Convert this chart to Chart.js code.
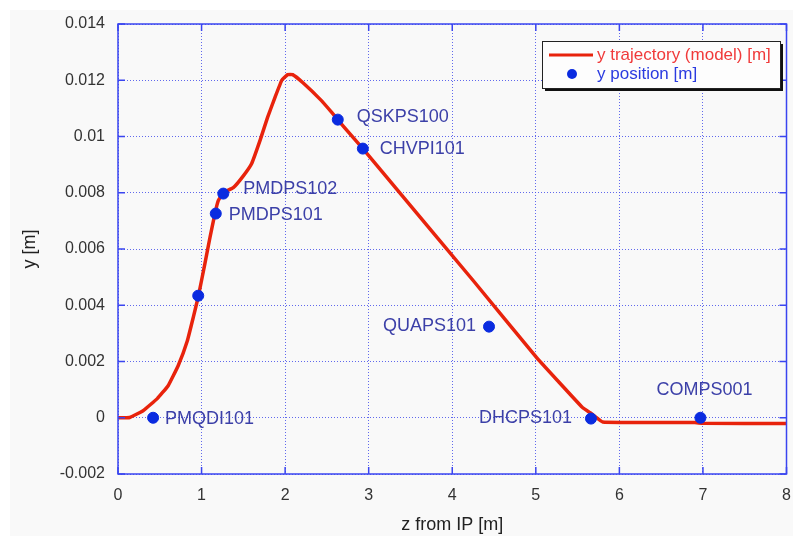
<!DOCTYPE html>
<html>
<head>
<meta charset="utf-8">
<script src="https://cdn.jsdelivr.net/npm/chart.js@4/dist/chart.umd.min.js"></script>
<style>
  html, body { margin: 0; padding: 0; background: #fff; }
  #wrap { width: 793px; height: 536px; }
</style>
</head>
<body>
<div id="wrap"><canvas id="trajChart" width="793" height="536"></canvas></div>
<script>
// model trajectory (z [m], y [m])
const zCurve = [0, 0.14, 0.30, 0.47, 0.60, 0.72, 0.83, 0.90, 0.96, 1.04, 1.10, 1.16, 1.20, 1.26,
  1.38, 1.50, 1.60, 1.70, 1.79, 1.88, 1.96, 2.03, 2.09, 2.21, 2.42, 2.56, 2.69, 2.93, 3.41,
  4.25, 5.01, 5.56, 5.65, 5.80, 6.90, 7.00, 8.00];
const yCurve = [0, 0.00001, 0.00025, 0.00068, 0.00114, 0.00185, 0.00274, 0.00356, 0.0043, 0.00548,
  0.0064, 0.00726, 0.00772, 0.0080, 0.00818, 0.0086, 0.00904, 0.00986, 0.01068, 0.0114, 0.0120,
  0.0122, 0.0122, 0.01192, 0.01132, 0.01085, 0.01039, 0.00957, 0.00786, 0.00488, 0.00214,
  0.00036, 0.00018, -0.00015, -0.00017, -0.0002, -0.0002];

// measured monitor positions
const monNames = ["PMQDI101", "", "PMDPS101", "PMDPS102", "QSKPS100", "CHVPI101", "QUAPS101", "DHCPS101", "COMPS001"];
const monZ = [0.42, 0.96, 1.17, 1.26, 2.63, 2.93, 4.44, 5.66, 6.97];
const monY = [0.0, 0.00434, 0.00726, 0.00797, 0.0106, 0.00957, 0.00324, -0.00003, 0.0];

const xTicks = [0, 1, 2, 3, 4, 5, 6, 7, 8];
const yTicks = [-0.002, 0, 0.002, 0.004, 0.006, 0.008, 0.01, 0.012, 0.014];

// label placement next to each dot: [dx, dy, align]
const labelPlace = [[12, 1, "left"], [0, 0, "left"], [13, 1, "left"], [20, -5, "left"], [19, -3, "left"],
  [17, 0, "left"], [-13, -1, "right"], [-19, -1, "right"], [4, -28, "center"]];

const FONT = "'Liberation Sans', Arial, Helvetica, sans-serif";
const frameBlue = "#3a45f0";
const lineRed = "#e8230c";
const dotBlue = "#0a2be0";

const bgPlugin = {
  id: "bg",
  beforeDraw(c) {
    const ctx = c.ctx;
    ctx.save();
    ctx.fillStyle = "#ffffff";
    ctx.fillRect(0, 0, c.width, c.height);
    ctx.fillStyle = "#f9f9f9";
    ctx.fillRect(10, 10, c.width - 10, c.height - 10);
    ctx.restore();
  }
};

const framePlugin = {
  id: "frame",
  afterDatasetsDraw(c) {
    const {ctx, chartArea: a, scales} = c;
    ctx.save();
    ctx.strokeStyle = frameBlue;
    ctx.lineWidth = 1.5;
    ctx.strokeRect(a.left, a.top, a.right - a.left, a.bottom - a.top);
    ctx.beginPath();
    yTicks.forEach(v => {
      const py = scales.y.getPixelForValue(v);
      ctx.moveTo(a.left, py); ctx.lineTo(a.left + 7, py);
      ctx.moveTo(a.right, py); ctx.lineTo(a.right - 7, py);
    });
    xTicks.forEach(v => {
      const px = scales.x.getPixelForValue(v);
      ctx.moveTo(px, a.bottom); ctx.lineTo(px, a.bottom - 7);
      ctx.moveTo(px, a.top); ctx.lineTo(px, a.top + 7);
    });
    ctx.stroke();
    ctx.restore();
  },
  afterDraw(c) {
    const ctx = c.ctx;
    // monitor names
    const meta = c.getDatasetMeta(1);
    ctx.save();
    ctx.font = "18px " + FONT;
    ctx.fillStyle = "#3c40a8";
    ctx.textBaseline = "middle";
    meta.data.forEach((pt, i) => {
      if (!monNames[i]) return;
      const [dx, dy, al] = labelPlace[i];
      ctx.textAlign = al;
      ctx.fillText(monNames[i], pt.x + dx, pt.y + dy);
    });
    // legend box
    const lx = 542, ly = 41, lw = 238, lh = 47;
    ctx.fillStyle = "#111";
    ctx.fillRect(lx + 3, ly + 3, lw, lh);
    ctx.fillStyle = "#fdfdfd";
    ctx.fillRect(lx, ly, lw, lh);
    ctx.strokeStyle = "#222";
    ctx.lineWidth = 1;
    ctx.strokeRect(lx + 0.5, ly + 0.5, lw, lh);
    ctx.strokeStyle = lineRed;
    ctx.lineWidth = 3;
    ctx.beginPath();
    ctx.moveTo(lx + 7, ly + 14); ctx.lineTo(lx + 51, ly + 14);
    ctx.stroke();
    ctx.fillStyle = dotBlue;
    ctx.beginPath();
    ctx.arc(lx + 30, ly + 33, 5, 0, Math.PI * 2);
    ctx.fill();
    ctx.font = "17px " + FONT;
    ctx.textAlign = "left";
    ctx.fillStyle = "#f03a3a";
    ctx.fillText(c.data.datasets[0].label, lx + 55, ly + 14);
    ctx.fillStyle = "#2b3be0";
    ctx.fillText(c.data.datasets[1].label, lx + 55, ly + 33);
    ctx.restore();
  }
};

const ctx = document.getElementById("trajChart").getContext("2d");
new Chart(ctx, {
  type: "scatter",
  data: {
    datasets: [
      {
        label: "y trajectory (model) [m]",
        data: zCurve.map((z, i) => ({x: z, y: yCurve[i]})),
        showLine: true,
        borderColor: lineRed,
        borderWidth: 3.5,
        pointRadius: 0,
        tension: 0.1,
        order: 2
      },
      {
        label: "y position [m]",
        data: monZ.map((z, i) => ({x: z, y: monY[i]})),
        backgroundColor: dotBlue,
        borderColor: dotBlue,
        pointRadius: 5.5,
        order: 1
      }
    ]
  },
  options: {
    responsive: false,
    animation: false,
    layout: { padding: { left: 19, right: 6, top: 24, bottom: 0 } },
    plugins: { legend: { display: false }, tooltip: { enabled: false } },
    scales: {
      x: {
        type: "linear",
        min: 0, max: 8,
        afterFit: s => { s.height = 62; s.paddingLeft = 0; s.paddingRight = 0; },
        afterBuildTicks: s => { s.ticks = xTicks.map(v => ({value: v})); },
        grid: { color: "rgba(70,80,235,0.85)", lineWidth: 1, drawTicks: false },
        border: { display: false, dash: [1, 2] },
        ticks: { color: "#333", font: { family: FONT, size: 16 }, padding: 12, maxRotation: 0 },
        title: { display: true, text: "z from IP [m]", color: "#222", font: { family: FONT, size: 18 }, padding: 0 }
      },
      y: {
        min: -0.002, max: 0.014,
        afterFit: s => { s.width = 99; s.paddingTop = 0; s.paddingBottom = 0; },
        afterBuildTicks: s => { s.ticks = yTicks.map(v => ({value: v})); },
        grid: { color: "rgba(70,80,235,0.85)", lineWidth: 1, drawTicks: false },
        border: { display: false, dash: [1, 2] },
        ticks: {
          color: "#333", font: { family: FONT, size: 16 }, padding: 13,
          callback: v => String(Number(v.toFixed(3)))
        },
        title: { display: true, text: "y [m]", color: "#222", font: { family: FONT, size: 18 }, padding: 0 }
      }
    }
  },
  plugins: [bgPlugin, framePlugin]
});
</script>
</body>
</html>
